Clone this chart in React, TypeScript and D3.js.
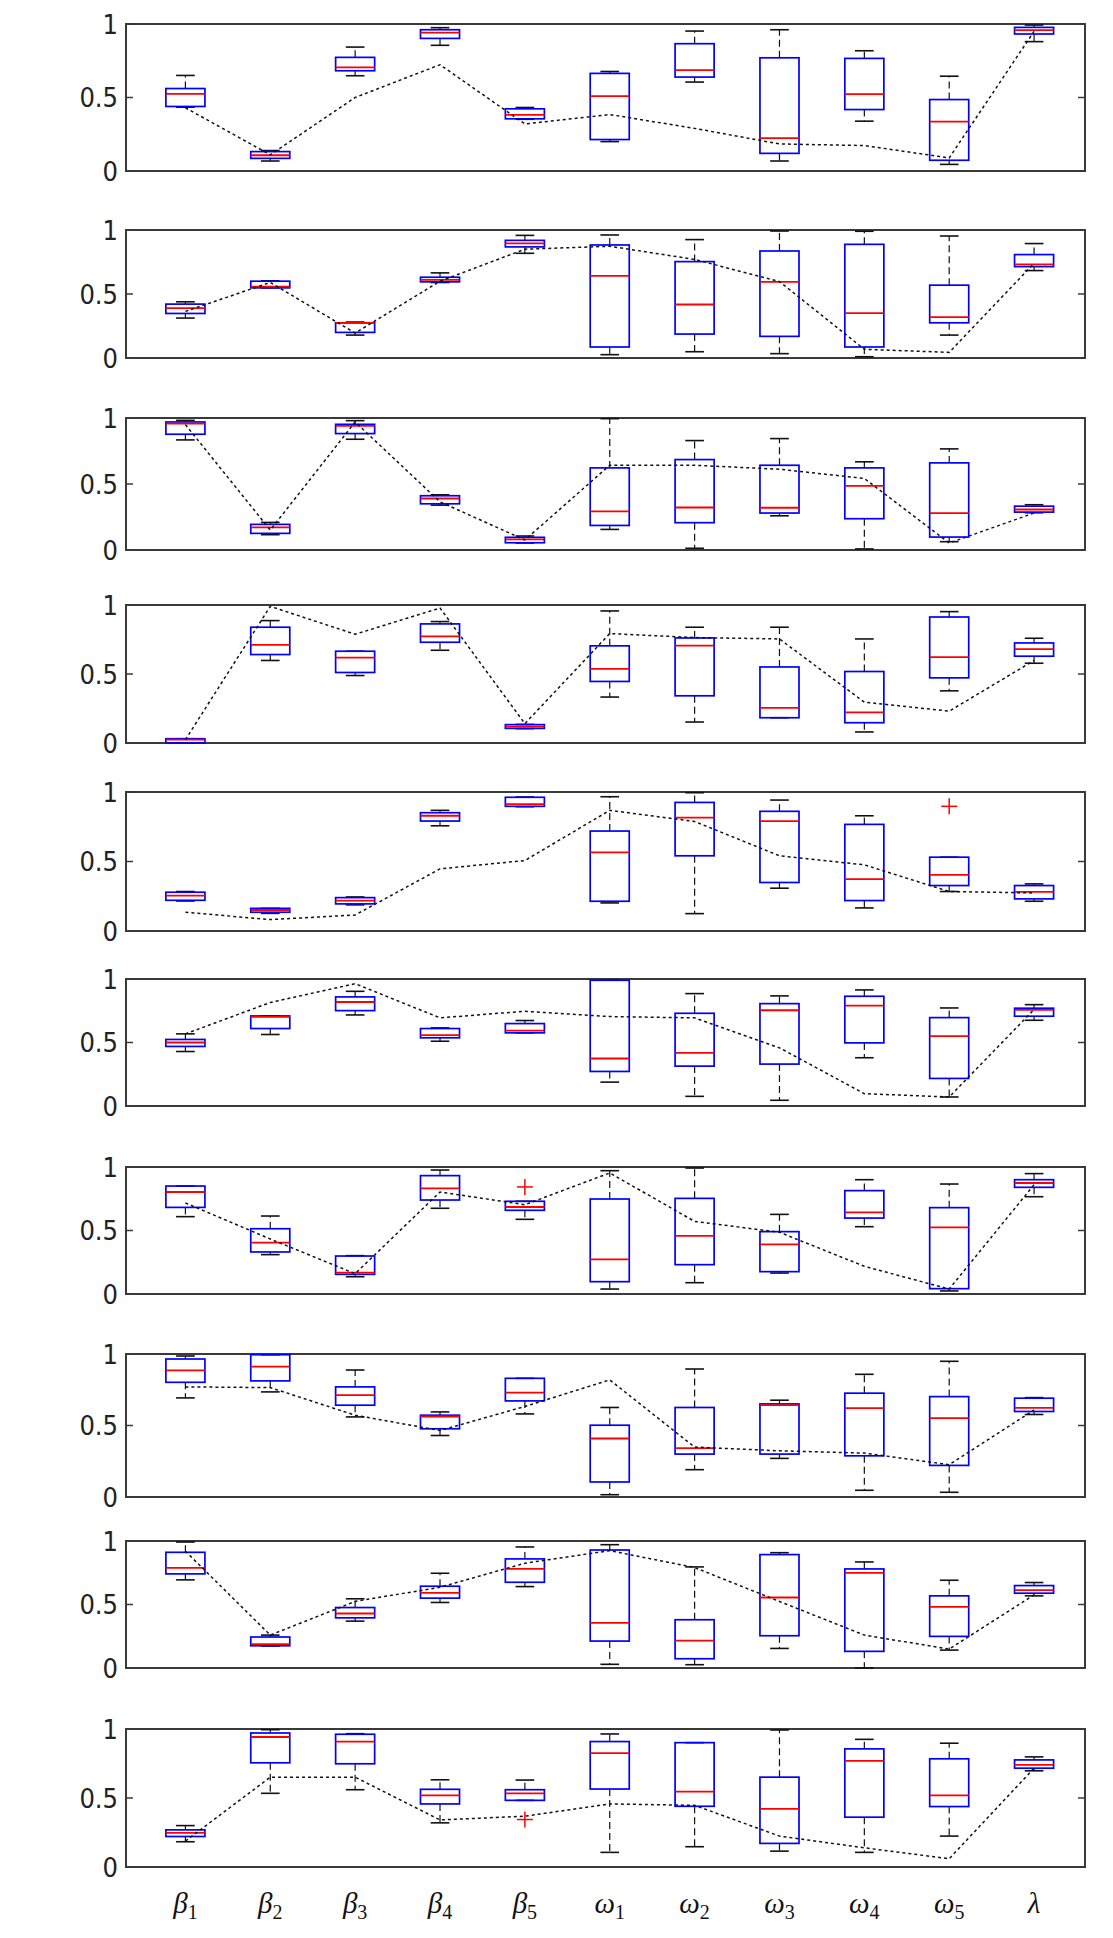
import React from 'react';
import * as d3 from 'd3';

// parameter names on the x axis
const categories = ['β1', 'β2', 'β3', 'β4', 'β5', 'ω1', 'ω2', 'ω3', 'ω4', 'ω5', 'λ'];
const yTicks = [0, 0.5, 1];

// one row per panel (10 runs), one value per parameter
const whiskerLow = [
  [0.434, 0.068, 0.648, 0.855, 0.352, 0.2, 0.605, 0.068, 0.339, 0.045, 0.88],
  [0.312, 0.548, 0.179, 0.59, 0.818, 0.026, 0.049, 0.034, 0.01, 0.179, 0.683],
  [0.834, 0.116, 0.839, 0.34, 0.053, 0.156, 0.013, 0.259, 0.008, 0.063, 0.282],
  [0.0, 0.598, 0.489, 0.672, 0.104, 0.333, 0.152, 0.183, 0.08, 0.378, 0.578],
  [0.216, 0.127, 0.188, 0.757, 0.894, 0.202, 0.125, 0.308, 0.166, 0.284, 0.214],
  [0.429, 0.563, 0.717, 0.51, 0.576, 0.188, 0.076, 0.045, 0.38, 0.071, 0.675],
  [0.609, 0.31, 0.136, 0.675, 0.588, 0.039, 0.089, 0.165, 0.53, 0.024, 0.766],
  [0.693, 0.735, 0.56, 0.43, 0.581, 0.016, 0.191, 0.27, 0.047, 0.033, 0.577],
  [0.694, 0.173, 0.369, 0.516, 0.641, 0.029, 0.026, 0.154, 0.0, 0.141, 0.568],
  [0.183, 0.534, 0.56, 0.32, 0.483, 0.106, 0.147, 0.115, 0.106, 0.224, 0.697],
];
const quartile1 = [
  [0.439, 0.086, 0.682, 0.902, 0.355, 0.214, 0.639, 0.12, 0.418, 0.073, 0.932],
  [0.348, 0.548, 0.2, 0.595, 0.868, 0.086, 0.187, 0.169, 0.086, 0.275, 0.714],
  [0.877, 0.126, 0.882, 0.35, 0.055, 0.186, 0.207, 0.28, 0.237, 0.098, 0.287],
  [0.0, 0.641, 0.511, 0.73, 0.106, 0.446, 0.342, 0.183, 0.147, 0.472, 0.629],
  [0.221, 0.135, 0.195, 0.791, 0.897, 0.214, 0.541, 0.349, 0.219, 0.327, 0.231],
  [0.469, 0.61, 0.751, 0.537, 0.576, 0.272, 0.314, 0.33, 0.497, 0.217, 0.707],
  [0.682, 0.331, 0.155, 0.74, 0.659, 0.097, 0.231, 0.176, 0.598, 0.042, 0.84],
  [0.802, 0.812, 0.642, 0.477, 0.672, 0.105, 0.3, 0.3, 0.288, 0.221, 0.598],
  [0.741, 0.175, 0.395, 0.55, 0.675, 0.212, 0.073, 0.254, 0.131, 0.249, 0.589],
  [0.221, 0.755, 0.748, 0.457, 0.483, 0.565, 0.44, 0.171, 0.361, 0.438, 0.716],
];
const medians = [
  [0.525, 0.107, 0.705, 0.941, 0.382, 0.509, 0.686, 0.223, 0.523, 0.336, 0.959],
  [0.39, 0.558, 0.275, 0.61, 0.896, 0.642, 0.418, 0.595, 0.351, 0.319, 0.732],
  [0.957, 0.171, 0.94, 0.39, 0.081, 0.292, 0.322, 0.32, 0.486, 0.28, 0.307],
  [0.024, 0.711, 0.619, 0.773, 0.118, 0.537, 0.706, 0.255, 0.222, 0.622, 0.68],
  [0.255, 0.151, 0.219, 0.829, 0.913, 0.565, 0.815, 0.791, 0.373, 0.404, 0.281],
  [0.5, 0.702, 0.819, 0.558, 0.594, 0.374, 0.419, 0.754, 0.791, 0.55, 0.757],
  [0.803, 0.404, 0.168, 0.832, 0.685, 0.273, 0.457, 0.391, 0.643, 0.525, 0.874],
  [0.886, 0.912, 0.712, 0.563, 0.73, 0.409, 0.342, 0.642, 0.621, 0.551, 0.623],
  [0.788, 0.188, 0.429, 0.592, 0.78, 0.356, 0.215, 0.555, 0.749, 0.482, 0.613],
  [0.248, 0.942, 0.909, 0.519, 0.534, 0.825, 0.546, 0.421, 0.769, 0.519, 0.74],
];
const quartile3 = [
  [0.561, 0.132, 0.773, 0.961, 0.423, 0.664, 0.866, 0.77, 0.766, 0.486, 0.977],
  [0.421, 0.6, 0.275, 0.631, 0.919, 0.883, 0.753, 0.836, 0.888, 0.569, 0.808],
  [0.97, 0.194, 0.952, 0.411, 0.096, 0.622, 0.685, 0.642, 0.622, 0.66, 0.332],
  [0.031, 0.839, 0.665, 0.863, 0.133, 0.704, 0.761, 0.551, 0.518, 0.913, 0.725],
  [0.279, 0.163, 0.24, 0.851, 0.962, 0.719, 0.925, 0.861, 0.767, 0.531, 0.327],
  [0.524, 0.709, 0.859, 0.61, 0.649, 0.99, 0.73, 0.806, 0.864, 0.696, 0.77],
  [0.85, 0.514, 0.299, 0.932, 0.73, 0.748, 0.753, 0.491, 0.814, 0.68, 0.9],
  [0.965, 0.995, 0.77, 0.572, 0.83, 0.502, 0.626, 0.651, 0.726, 0.702, 0.691],
  [0.911, 0.244, 0.476, 0.644, 0.859, 0.929, 0.38, 0.893, 0.78, 0.568, 0.649],
  [0.269, 0.971, 0.962, 0.563, 0.56, 0.909, 0.901, 0.651, 0.856, 0.784, 0.776],
];
const whiskerHigh = [
  [0.65, 0.139, 0.843, 0.975, 0.432, 0.677, 0.952, 0.961, 0.818, 0.645, 0.993],
  [0.439, 0.603, 0.281, 0.665, 0.958, 0.961, 0.925, 0.992, 0.99, 0.953, 0.894],
  [0.982, 0.209, 0.98, 0.418, 0.106, 0.995, 0.829, 0.844, 0.668, 0.766, 0.343],
  [0.031, 0.887, 0.665, 0.88, 0.135, 0.957, 0.839, 0.839, 0.754, 0.952, 0.759],
  [0.284, 0.163, 0.245, 0.868, 0.964, 0.966, 0.995, 0.942, 0.829, 0.531, 0.339],
  [0.568, 0.709, 0.903, 0.615, 0.673, 0.992, 0.885, 0.867, 0.914, 0.772, 0.798],
  [0.85, 0.614, 0.302, 0.976, 0.73, 0.971, 0.992, 0.627, 0.9, 0.866, 0.948],
  [0.986, 0.995, 0.888, 0.595, 0.83, 0.626, 0.895, 0.677, 0.858, 0.949, 0.695],
  [0.992, 0.259, 0.545, 0.746, 0.953, 0.971, 0.796, 0.908, 0.835, 0.691, 0.673],
  [0.3, 0.995, 0.966, 0.632, 0.63, 0.964, 0.901, 0.993, 0.925, 0.897, 0.798],
];
// true parameter values (dotted line)
const trueValues = [
  [0.43, 0.11, 0.5, 0.723, 0.32, 0.384, 0.29, 0.184, 0.173, 0.089, 0.95],
  [0.364, 0.59, 0.195, 0.6, 0.85, 0.873, 0.77, 0.597, 0.068, 0.044, 0.74],
  [0.95, 0.151, 0.97, 0.365, 0.076, 0.642, 0.642, 0.612, 0.542, 0.053, 0.28],
  [0.024, 0.99, 0.788, 0.978, 0.14, 0.793, 0.764, 0.754, 0.296, 0.231, 0.598],
  [0.135, 0.082, 0.115, 0.447, 0.507, 0.868, 0.788, 0.541, 0.476, 0.284, 0.274],
  [0.568, 0.815, 0.963, 0.694, 0.746, 0.704, 0.694, 0.458, 0.097, 0.071, 0.76],
  [0.717, 0.433, 0.16, 0.803, 0.703, 0.953, 0.572, 0.486, 0.218, 0.039, 0.861],
  [0.77, 0.765, 0.572, 0.465, 0.633, 0.819, 0.349, 0.323, 0.307, 0.226, 0.609],
  [0.92, 0.259, 0.524, 0.636, 0.825, 0.924, 0.791, 0.524, 0.259, 0.149, 0.576],
  [0.188, 0.651, 0.651, 0.341, 0.368, 0.457, 0.447, 0.224, 0.139, 0.06, 0.716],
];
// [panel, parameter index, value]
const outliers = [
  [4, 9, 0.897],
  [6, 4, 0.843],
  [9, 4, 0.344],
];

// layout: panel frames in page pixels
const panelTop = [24, 230, 418, 605, 792, 979, 1167, 1354, 1541, 1729];
const panelBottom = [171, 358, 550, 743, 931, 1106, 1294, 1497, 1668, 1867];
const plotLeft = 126;
const plotRight = 1085;

const W = 1113;
const H = 1938;

const x = d3.scaleLinear().domain([0.3, categories.length + 0.6]).range([plotLeft, plotRight]);
const unit = x(1) - x(0);
const boxW = unit * 0.46;
const capW = unit * 0.22;

const tickFont = "'Liberation Sans Narrow', 'Arial Narrow', 'DejaVu Sans Condensed', 'Liberation Sans', sans-serif";

const Panel = ({ p }) => {
  const y = d3.scaleLinear().domain([0, 1]).range([panelBottom[p], panelTop[p]]);
  const line = d3.line()
    .x((d, i) => x(i + 1))
    .y(d => y(d));

  return (
    <g>
      {/* frame */}
      <rect x={plotLeft} y={panelTop[p]} width={plotRight - plotLeft} height={panelBottom[p] - panelTop[p]}
        fill="#fff" stroke="#3a3a3a" strokeWidth={2} />
      {/* ticks + labels */}
      {yTicks.map(t => (
        <g key={t}>
          <line x1={plotLeft} x2={plotLeft + 7} y1={y(t)} y2={y(t)} stroke="#3a3a3a" strokeWidth={1.5} />
          <line x1={plotRight} x2={plotRight - 7} y1={y(t)} y2={y(t)} stroke="#3a3a3a" strokeWidth={1.5} />
          <text x={plotLeft - 8} y={y(t)} dy="0.36em" textAnchor="end"
            style={{ fontFamily: tickFont, fontSize: '27px', fill: '#222' }}>
            {t}
          </text>
        </g>
      ))}
      {/* boxes */}
      {categories.map((c, i) => {
        const cx = x(i + 1);
        return (
          <g key={c}>
            <line x1={cx} x2={cx} y1={y(quartile3[p][i])} y2={y(whiskerHigh[p][i])}
              stroke="#111" strokeWidth={1.2} strokeDasharray="7,4" />
            <line x1={cx} x2={cx} y1={y(quartile1[p][i])} y2={y(whiskerLow[p][i])}
              stroke="#111" strokeWidth={1.2} strokeDasharray="7,4" />
            <line x1={cx - capW / 2} x2={cx + capW / 2} y1={y(whiskerHigh[p][i])} y2={y(whiskerHigh[p][i])}
              stroke="#111" strokeWidth={1.6} />
            <line x1={cx - capW / 2} x2={cx + capW / 2} y1={y(whiskerLow[p][i])} y2={y(whiskerLow[p][i])}
              stroke="#111" strokeWidth={1.6} />
            <rect x={cx - boxW / 2} y={y(quartile3[p][i])} width={boxW}
              height={Math.max(0.5, y(quartile1[p][i]) - y(quartile3[p][i]))}
              fill="none" stroke="#0000ff" strokeWidth={1.7} />
            <line x1={cx - boxW / 2} x2={cx + boxW / 2} y1={y(medians[p][i])} y2={y(medians[p][i])}
              stroke="#ff0000" strokeWidth={1.8} />
          </g>
        );
      })}
      {/* outliers */}
      {outliers.filter(o => o[0] === p).map((o, k) => {
        const cx = x(o[1] + 1);
        const cy = y(o[2]);
        return (
          <g key={k} stroke="#ff0000" strokeWidth={1.5}>
            <line x1={cx - 8} x2={cx + 8} y1={cy} y2={cy} />
            <line x1={cx} x2={cx} y1={cy - 8} y2={cy + 8} />
          </g>
        );
      })}
      {/* true values */}
      <path d={line(trueValues[p])} fill="none" stroke="#111" strokeWidth={1.5} strokeDasharray="3,3" />
    </g>
  );
};

export default function App() {
  return (
    <svg width={W} height={H} style={{ position: 'absolute', left: 0, top: 0, background: '#fff' }}>
      <rect width={W} height={H} fill="#fff" />
      {panelTop.map((_, p) => <Panel key={p} p={p} />)}
      {categories.map((c, i) => (
        <text key={c} x={x(i + 1)} y={1913} textAnchor="middle"
          style={{ fontFamily: "'Liberation Serif', 'DejaVu Serif', serif", fontSize: '29px', fill: '#111' }}>
          <tspan fontStyle="italic">{c[0]}</tspan>
          {c.length > 1 && <tspan fontSize="20px" dy="6">{c.slice(1)}</tspan>}
        </text>
      ))}
    </svg>
  );
}
